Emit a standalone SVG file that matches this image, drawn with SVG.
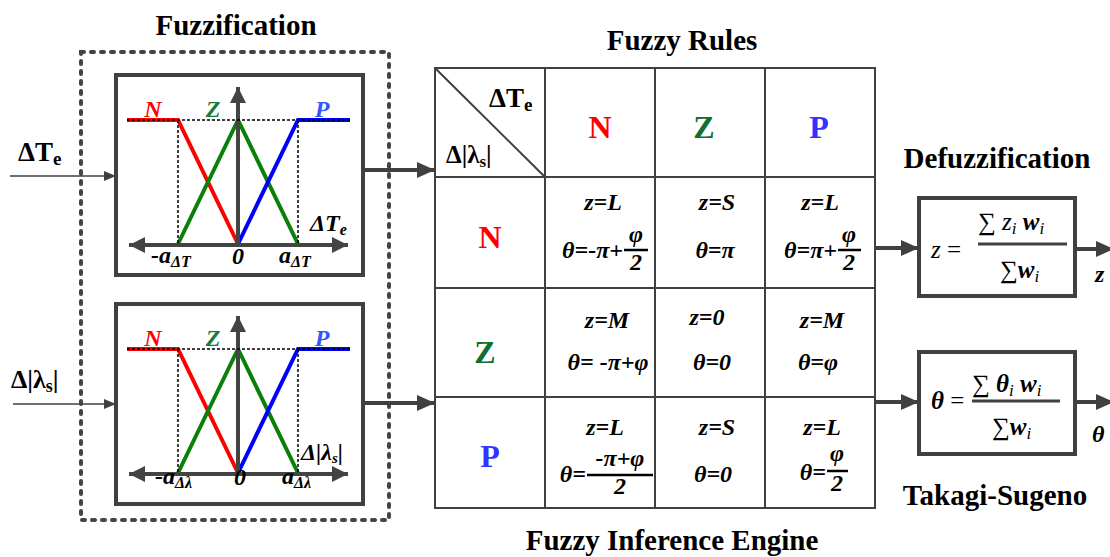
<svg xmlns="http://www.w3.org/2000/svg" width="1110" height="557" viewBox="0 0 1110 557">
<style>
text{font-family:"Liberation Serif","Times New Roman",serif;fill:#000}
.t{font-weight:bold;font-size:29px;text-anchor:middle}
.f{font-weight:bold;font-style:italic;font-size:24px}
.g{font-weight:bold;font-style:italic;font-size:24px}
.m{text-anchor:middle}
.e{text-anchor:end}
.box{fill:#fff;stroke:#404040;stroke-width:4}
.dash{fill:none;stroke:#000;stroke-width:1.5;stroke-dasharray:3 2}
.mf{fill:none;stroke-width:4}
.ax{fill:none;stroke:#444;stroke-width:4}
.grid{fill:none;stroke:#404040;stroke-width:2}
.bar{stroke:#000;stroke-width:2.5}
.thick{fill:none;stroke:#404040;stroke-width:4}
.thin{fill:none;stroke:#404040;stroke-width:1.5}
.hd{font-weight:bold;font-size:32px;text-anchor:middle}
</style>
<defs>
<marker id="big" markerUnits="userSpaceOnUse" markerWidth="20" markerHeight="18" refX="18" refY="8" orient="auto"><path d="M0,0 L18,8 L0,16 z" fill="#404040"/></marker>
<marker id="ax" markerUnits="userSpaceOnUse" markerWidth="20" markerHeight="18" refX="16" refY="8" orient="auto-start-reverse"><path d="M0,0 L16,8 L0,16 z" fill="#444"/></marker>
<marker id="sm" markerUnits="userSpaceOnUse" markerWidth="14" markerHeight="12" refX="12" refY="5" orient="auto"><path d="M0,0 L12,5 L0,10 z" fill="#404040"/></marker>
<g id="mfplot">
<path class="mf" stroke="#ff0000" d="M127,120 H178 L238,244"/>
<path class="mf" stroke="#0a800a" d="M178,244 L238,120 L298,244"/>
<path class="mf" stroke="#0000ff" d="M238,244 L298,120 H350"/>
<path class="ax" d="M238,245 V87" marker-end="url(#ax)"/>
<path class="ax" d="M129,245 H348" marker-start="url(#ax)" marker-end="url(#ax)"/>
<path class="dash" d="M127,120 H350 M178,120 V244 M298,120 V244"/>
</g>
</defs>
<rect width="1110" height="557" fill="#fff"/>

<g id="titles">
<text class="t" x="236" y="35">Fuzzification</text>
<text class="t" x="682" y="50">Fuzzy Rules</text>
<text class="t" x="997" y="168">Defuzzification</text>
<text class="t" x="995" y="505">Takagi-Sugeno</text>
<text class="t" x="672" y="550">Fuzzy Inference Engine</text>
</g>

<g id="fuzzification-frame">
<rect x="81" y="52" width="308" height="468" fill="none" stroke="#444" stroke-width="4" stroke-dasharray="3 7" stroke-linecap="round"/>
</g>

<g id="connectors">
<line class="thin" x1="10" y1="176" x2="116" y2="176" marker-end="url(#sm)"/>
<line class="thin" x1="13" y1="404" x2="116" y2="404" marker-end="url(#sm)"/>
<line class="thick" x1="363" y1="170" x2="435" y2="170" marker-end="url(#big)"/>
<line class="thick" x1="363" y1="403" x2="435" y2="403" marker-end="url(#big)"/>
<line class="thick" x1="875" y1="248" x2="919" y2="248" marker-end="url(#big)"/>
<line class="thick" x1="875" y1="402" x2="919" y2="402" marker-end="url(#big)"/>
<line class="thick" x1="1075" y1="249" x2="1114" y2="249" marker-end="url(#big)"/>
<line class="thick" x1="1075" y1="402" x2="1114" y2="402" marker-end="url(#big)"/>
</g>

<g id="inputs">
<text x="18" y="161" font-weight="bold" font-size="27">ΔT<tspan font-size="19" dy="4">e</tspan></text>
<text x="11" y="388" font-weight="bold" font-size="26">Δ|λ<tspan font-size="18" dy="4">s</tspan><tspan dy="-4">|</tspan></text>
</g>

<g id="mf-dT">
<rect class="box" x="116" y="75" width="247" height="200"/>
<use href="#mfplot"/>
<text class="g m" x="153" y="117" style="fill:#ff0000">N</text>
<text class="g m" x="213" y="117" style="fill:#1a7a3a">Z</text>
<text class="g m" x="322" y="117" style="fill:#3355ff">P</text>
<text class="f" x="310" y="231">ΔT<tspan font-size="16" dy="4">e</tspan></text>
<text class="f" x="151" y="263">-a<tspan font-size="16" dy="4">ΔT</tspan></text>
<text class="f m" x="238" y="264">0</text>
<text class="f" x="279" y="263">a<tspan font-size="16" dy="4">ΔT</tspan></text>
</g>

<g id="mf-dL">
<rect class="box" x="116" y="304" width="247" height="200"/>
<use href="#mfplot" transform="translate(0,229)"/>
<text class="g m" x="153" y="346" style="fill:#ff0000">N</text>
<text class="g m" x="213" y="346" style="fill:#1a7a3a">Z</text>
<text class="g m" x="322" y="346" style="fill:#3355ff">P</text>
<text class="f" x="301" y="460" font-size="22">Δ|λ<tspan font-size="15" dy="3">s</tspan><tspan dy="-3">|</tspan></text>
<text class="f" x="155" y="484">-a<tspan font-size="16" dy="4">Δλ</tspan></text>
<text class="f m" x="240" y="485">0</text>
<text class="f" x="282" y="484">a<tspan font-size="16" dy="4">Δλ</tspan></text>
</g>

<g id="rule-table">
<rect class="grid" x="435" y="68" width="440" height="440"/>
<path class="grid" d="M545,68 V508 M655,68 V508 M765,68 V508 M435,177 H875 M435,288 H875 M435,397 H875 M435,68 L545,177"/>
<text x="489" y="107" font-weight="bold" font-size="27">ΔT<tspan font-size="19" dy="4">e</tspan></text>
<text x="446" y="163" font-weight="bold" font-size="25">Δ|λ<tspan font-size="17" dy="4">s</tspan><tspan dy="-4">|</tspan></text>
<text class="hd" x="600" y="138" style="fill:#ff0000">N</text>
<text class="hd" x="704" y="138" style="fill:#107030">Z</text>
<text class="hd" x="819" y="138" style="fill:#3333ff">P</text>
<text class="hd" x="490" y="248" style="fill:#ff0000">N</text>
<text class="hd" x="485" y="363" style="fill:#107030">Z</text>
<text class="hd" x="490" y="467" style="fill:#3333ff">P</text>

<text class="f m" x="603" y="210">z=L</text>
<text class="f e" x="623" y="258">θ=-π+</text>
<text class="f m" x="636" y="242">φ</text>
<line class="bar" x1="624" y1="250" x2="648" y2="250"/>
<text class="f m" x="636" y="270">2</text>

<text class="f m" x="717" y="210">z=S</text>
<text class="f m" x="715" y="258">θ=π</text>

<text class="f m" x="820" y="210">z=L</text>
<text class="f e" x="837" y="258">θ=π+</text>
<text class="f m" x="849" y="242">φ</text>
<line class="bar" x1="838" y1="250" x2="861" y2="250"/>
<text class="f m" x="849" y="270">2</text>

<text class="f m" x="607" y="328">z=M</text>
<text class="f m" x="608" y="370">θ= -π+φ</text>
<text class="f m" x="707" y="325">z=0</text>
<text class="f m" x="712" y="370">θ=0</text>
<text class="f m" x="822" y="328">z=M</text>
<text class="f m" x="818" y="370">θ=φ</text>

<text class="f m" x="605" y="435">z=L</text>
<text class="f e" x="586" y="482">θ=</text>
<text class="f m" x="620" y="466">-π+φ</text>
<line class="bar" x1="587" y1="475" x2="653" y2="475"/>
<text class="f m" x="620" y="494">2</text>
<text class="f m" x="717" y="435">z=S</text>
<text class="f m" x="713" y="482">θ=0</text>
<text class="f m" x="822" y="435">z=L</text>
<text class="f e" x="826" y="480">θ=</text>
<text class="f m" x="837" y="461">φ</text>
<line class="bar" x1="827" y1="471" x2="848" y2="471"/>
<text class="f m" x="837" y="491">2</text>
</g>

<g id="defuzz-z">
<rect class="box" x="919" y="198" width="156" height="98"/>
<text x="931" y="258" font-size="25"><tspan font-style="italic">z</tspan> =</text>
<line x1="978" y1="244" x2="1067" y2="244" stroke="#404040" stroke-width="3"/>
<text x="978" y="230" font-size="25">∑ <tspan font-style="italic">z</tspan><tspan font-style="italic" font-size="17" dy="4">i</tspan><tspan font-style="italic" font-weight="bold" dy="-4"> w</tspan><tspan font-style="italic" font-size="17" dy="4">i</tspan></text>
<text x="1000" y="278" font-size="25">∑<tspan font-style="italic" font-weight="bold">w</tspan><tspan font-style="italic" font-size="17" dy="4">i</tspan></text>
</g>

<g id="defuzz-theta">
<rect class="box" x="919" y="352" width="156" height="102"/>
<text x="931" y="409" font-size="25"><tspan font-style="italic" font-weight="bold">θ</tspan> =</text>
<line x1="972" y1="401" x2="1060" y2="401" stroke="#404040" stroke-width="3"/>
<text x="972" y="392" font-size="25">∑ <tspan font-style="italic" font-weight="bold">θ</tspan><tspan font-style="italic" font-size="17" dy="4">i</tspan><tspan font-style="italic" font-weight="bold" dy="-4"> w</tspan><tspan font-style="italic" font-size="17" dy="4">i</tspan></text>
<text x="992" y="435" font-size="25">∑<tspan font-style="italic" font-weight="bold">w</tspan><tspan font-style="italic" font-size="17" dy="4">i</tspan></text>
</g>

<g id="outputs">
<text class="f" x="1095" y="282" font-size="25">z</text>
<text class="f" x="1092" y="442" font-size="25">θ</text>
</g>
</svg>
